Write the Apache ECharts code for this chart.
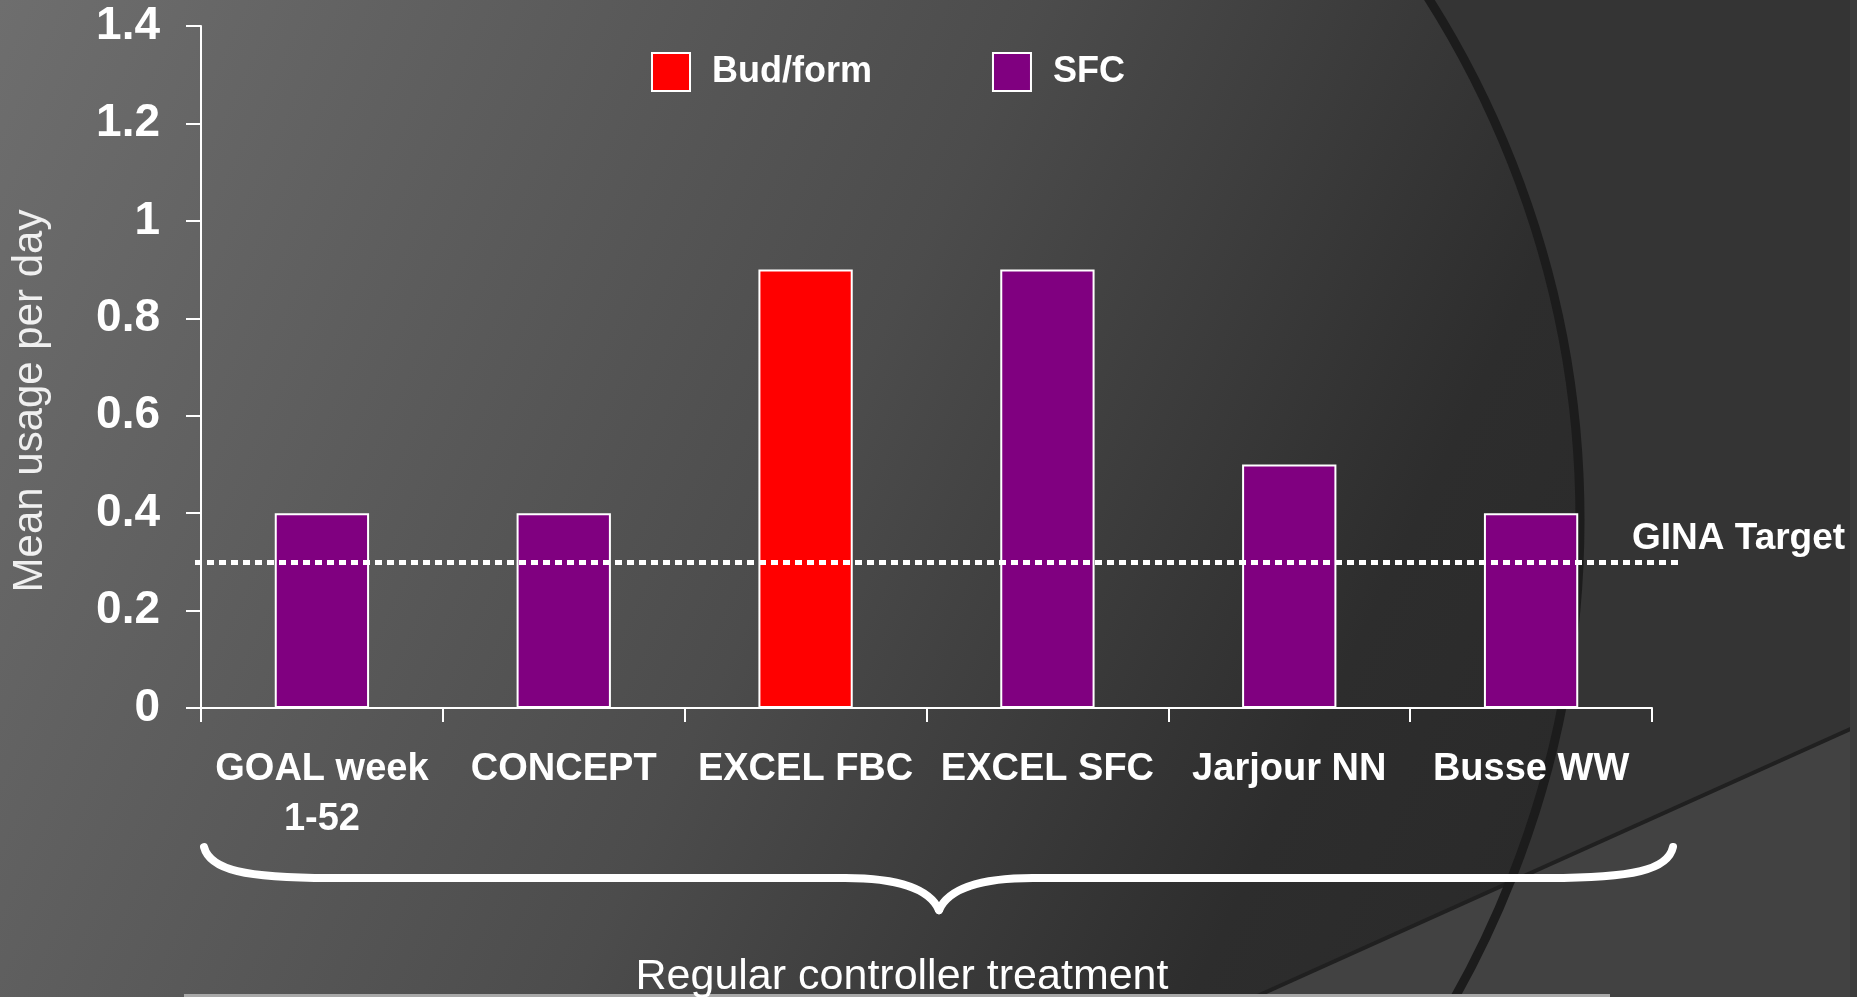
<!DOCTYPE html>
<html>
<head>
<meta charset="utf-8">
<script src="https://cdn.jsdelivr.net/npm/echarts@6/dist/echarts.min.js"></script>
<style>
  html, body { margin: 0; padding: 0; background: #4a4a4a; }
  #main { width: 1857px; height: 997px; }
</style>
</head>
<body>
<div id="main"></div>
<script>
const categories = ['GOAL week\n1-52', 'CONCEPT', 'EXCEL FBC', 'EXCEL SFC', 'Jarjour NN', 'Busse WW'];
const budFormValues = ['-', '-', 0.9, '-', '-', '-'];
const sfcValues = [0.4, 0.4, '-', 0.9, 0.5, 0.4];
const ginaTarget = 0.3;
const yMin = 0, yMax = 1.4, yStep = 0.2;

const FONT = '"Liberation Sans", Arial, sans-serif';
const chart = echarts.init(document.getElementById('main'), null, { renderer: 'canvas' });

// background decoration (slide theme)
const bgGraphics = [
  {
    type: 'rect', z: -100, silent: true,
    shape: { x: 0, y: 0, width: 1857, height: 997 },
    style: { fill: '#343434' }
  },
  {
    // big circle, its edge is the dark arc on the right
    type: 'circle', z: -99, silent: true,
    shape: { cx: 608, cy: 520, r: 972 },
    style: {
      fill: {
        type: 'linear', global: true, x: 0, y: 0, x2: 1700, y2: 800,
        colorStops: [
          { offset: 0, color: '#6e6e6e' },
          { offset: 0.5, color: '#4c4c4c' },
          { offset: 0.8, color: '#2d2d2d' },
          { offset: 1, color: '#292929' }
        ]
      }
    }
  },
  {
    type: 'polygon', z: -98, silent: true,
    shape: { points: [[1255, 997], [1857, 726], [1857, 997]] },
    style: { fill: '#424242' }
  },
  {
    type: 'line', z: -97, silent: true,
    shape: { x1: 1255, y1: 997, x2: 1857, y2: 726 },
    style: { stroke: '#202020', lineWidth: 4 }
  },
  {
    type: 'circle', z: -96, silent: true,
    shape: { cx: 608, cy: 520, r: 972 },
    style: { fill: null, stroke: '#1c1c1c', lineWidth: 9 }
  },
  {
    type: 'rect', z: -95, silent: true,
    shape: { x: 1850, y: 0, width: 7, height: 997 },
    style: { fill: '#3c3c3c' }
  },
  {
    type: 'rect', z: -95, silent: true,
    shape: { x: 184, y: 994, width: 1426, height: 3 },
    style: { fill: '#a8a8a8' }
  }
];

const braceStyle = { stroke: '#ffffff', lineWidth: 8, lineCap: 'round', fill: null };
const overlay = [
  {
    // y axis title
    type: 'text', z: 10, silent: true,
    x: 30, y: 401, rotation: Math.PI / 2,
    style: {
      text: 'Mean usage per day', fill: '#f0f0f0',
      font: 'normal 42px ' + FONT, align: 'center', verticalAlign: 'middle'
    }
  },
  // brace under the categories
  { type: 'bezierCurve', z: 10, silent: true, style: braceStyle,
    shape: { x1: 204, y1: 847, cpx1: 210, cpy1: 870, cpx2: 245, cpy2: 878, x2: 330, y2: 878 } },
  { type: 'line', z: 10, silent: true, style: braceStyle,
    shape: { x1: 330, y1: 878, x2: 845, y2: 878 } },
  { type: 'bezierCurve', z: 10, silent: true, style: braceStyle,
    shape: { x1: 845, y1: 878, cpx1: 900, cpy1: 878, cpx2: 930, cpy2: 890, x2: 939, y2: 910 } },
  { type: 'bezierCurve', z: 10, silent: true, style: braceStyle,
    shape: { x1: 939, y1: 910, cpx1: 948, cpy1: 890, cpx2: 978, cpy2: 878, x2: 1033, y2: 878 } },
  { type: 'line', z: 10, silent: true, style: braceStyle,
    shape: { x1: 1033, y1: 878, x2: 1548, y2: 878 } },
  { type: 'bezierCurve', z: 10, silent: true, style: braceStyle,
    shape: { x1: 1548, y1: 878, cpx1: 1633, cpy1: 878, cpx2: 1668, cpy2: 870, x2: 1673, y2: 847 } },
  {
    type: 'text', z: 10, silent: true,
    x: 902, y: 977,
    style: {
      text: 'Regular controller treatment', fill: '#ffffff',
      font: 'normal 43px ' + FONT, align: 'center', verticalAlign: 'middle'
    }
  }
];

const option = {
  backgroundColor: '#4a4a4a',
  animation: false,
  textStyle: { fontFamily: FONT },
  graphic: bgGraphics.concat(overlay),
  legend: {
    left: 646,
    top: 47,
    itemWidth: 38,
    itemHeight: 38,
    itemGap: 120,
    icon: 'rect',
    data: ['Bud/form', 'SFC'],
    textStyle: {
      color: '#ffffff', fontSize: 36, fontWeight: 'bold', fontFamily: FONT,
      padding: [0, 0, 0, 17]
    }
  },
  grid: {
    left: 201,
    right: 205,
    top: 26,
    bottom: 289,
    containLabel: false
  },
  xAxis: {
    type: 'category',
    data: categories,
    boundaryGap: true,
    axisLine: { lineStyle: { color: '#ffffff', width: 2 } },
    axisTick: { show: true, interval: 0, length: 14, lineStyle: { color: '#ffffff', width: 2 } },
    axisLabel: {
      interval: 0,
      margin: 37,
      color: '#ffffff',
      fontSize: 38,
      fontWeight: 'bold',
      fontFamily: FONT,
      lineHeight: 50
    },
    splitLine: { show: false }
  },
  yAxis: {
    type: 'value',
    min: yMin,
    max: yMax,
    interval: yStep,
    axisLine: { show: true, lineStyle: { color: '#ffffff', width: 2 } },
    axisTick: { show: true, length: 15, lineStyle: { color: '#ffffff', width: 2 } },
    axisLabel: {
      margin: 41,
      color: '#ffffff',
      fontSize: 46,
      fontWeight: 'bold',
      fontFamily: FONT
    },
    splitLine: { show: false }
  },
  series: [
    {
      name: 'Bud/form',
      type: 'bar',
      data: budFormValues,
      barWidth: '39%',
      barGap: '-100%',
      itemStyle: { color: '#ff0000', borderColor: '#ffffff', borderWidth: 2 }
    },
    {
      name: 'SFC',
      type: 'bar',
      data: sfcValues,
      barWidth: '39%',
      barGap: '-100%',
      itemStyle: { color: '#800080', borderColor: '#ffffff', borderWidth: 2 },
      markLine: {
        silent: true,
        symbol: 'none',
        lineStyle: { color: '#ffffff', type: [7, 5], width: 5 },
        label: {
          show: true,
          position: 'end',
          formatter: 'GINA Target',
          color: '#ffffff',
          fontSize: 37,
          fontWeight: 'bold',
          fontFamily: FONT,
          offset: [-52, -23]
        },
        // line runs a little past both ends of the axis, as on the slide
        data: [[{ yAxis: ginaTarget, x: 195 }, { yAxis: ginaTarget, x: 1679 }]]
      }
    }
  ]
};

chart.setOption(option);
</script>
</body>
</html>
